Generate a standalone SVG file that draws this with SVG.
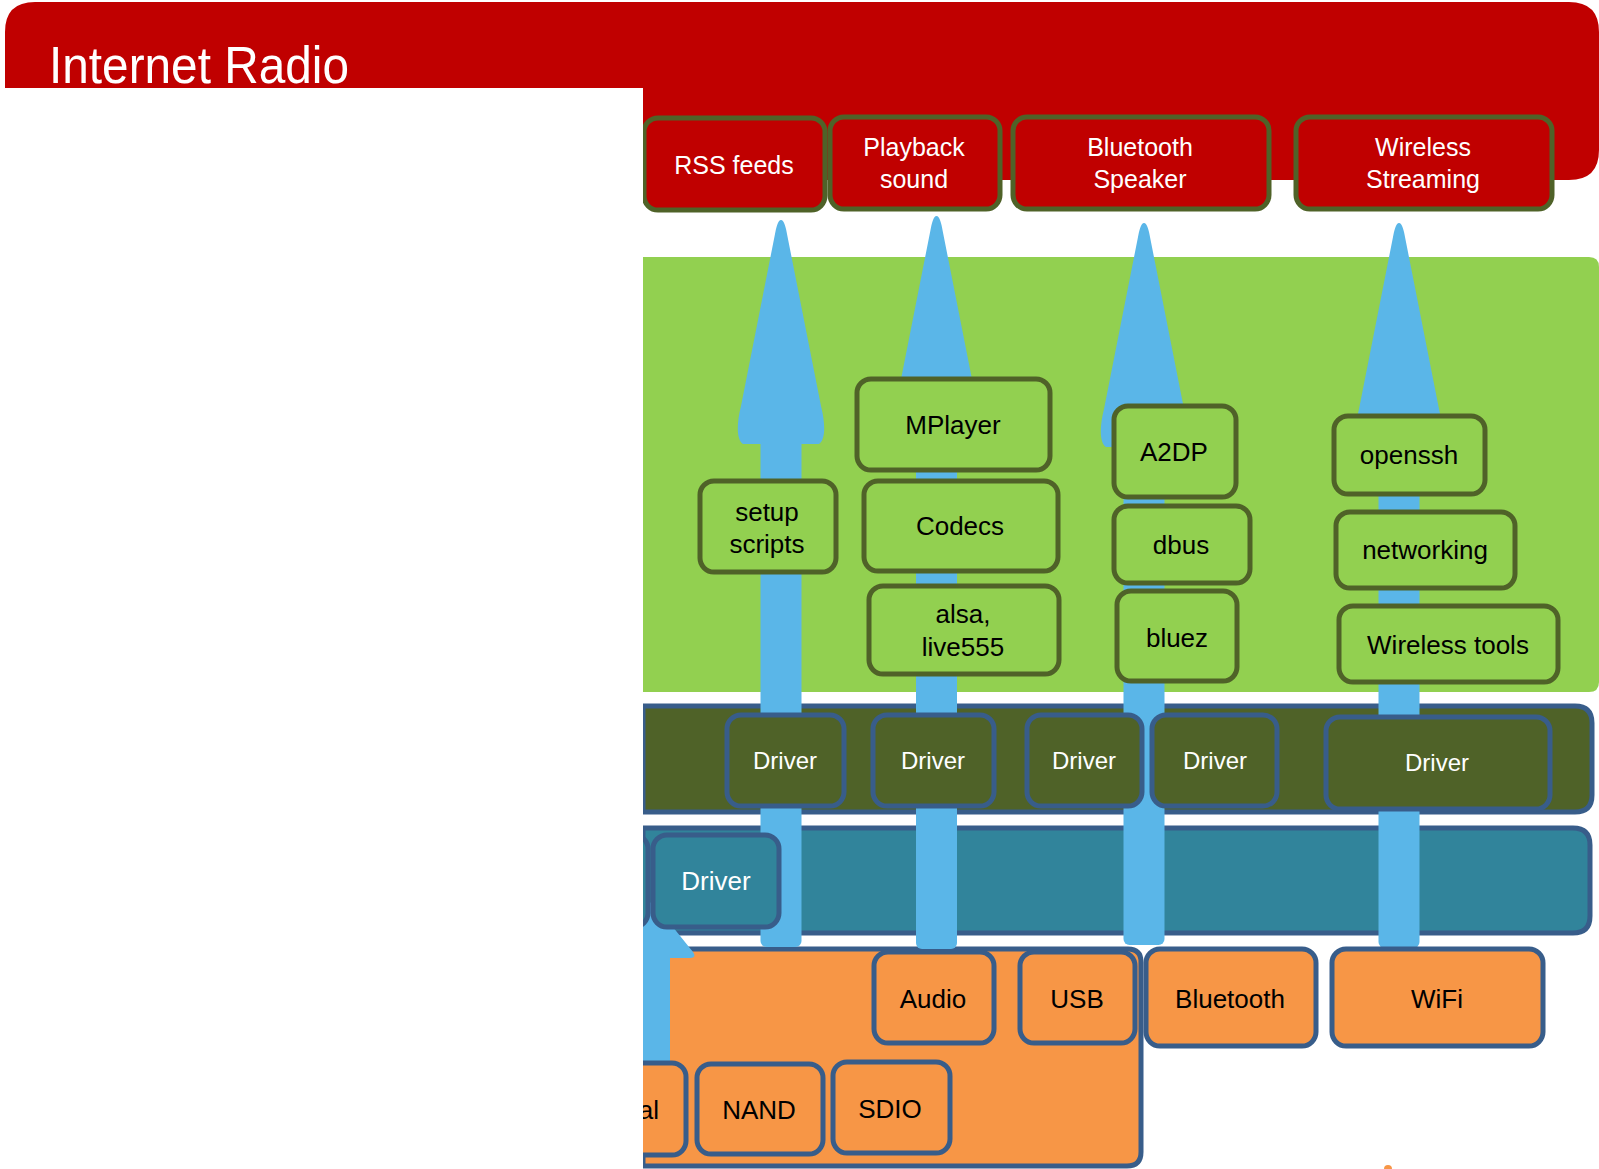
<svg xmlns="http://www.w3.org/2000/svg" width="1599" height="1169" viewBox="0 0 1599 1169">
<style>
text{font-family:"Liberation Sans",Arial,sans-serif;text-anchor:middle}
.top rect{fill:#C00000;stroke:#4F6228;stroke-width:5}
.top text{fill:#fff;font-size:25px}
.gb rect{fill:#92D050;stroke:#4F6228;stroke-width:5}
.gb text{fill:#000;font-size:26px}
.dv rect{fill:#4F6228;stroke:#385D8A;stroke-width:5}
.dv text{fill:#fff;font-size:24px}
.tl rect{fill:#31849B;stroke:#385D8A;stroke-width:5}
.tl text{fill:#fff;font-size:26px}
.ob rect{fill:#F79646;stroke:#385D8A;stroke-width:5}
.ob text{fill:#000;font-size:26px}
.arw{fill:#5AB6E8}
</style>
<defs>
<path id="head" d="M0,0 C3,0 5,8 6,14 L40,186 C45,206 44,220 38,224 L-38,224 C-44,220 -45,206 -40,186 L-6,14 C-5,8 -3,0 0,0 Z"/>
</defs>
<rect width="1599" height="1169" fill="#fff"/>
<g id="banner">
<path d="M35,2 H1569 Q1599,2 1599,32 V150 Q1599,180 1569,180 H643 V88 H5 V32 Q5,2 35,2 Z" fill="#C00000"/>
<text x="49" y="83" textLength="300" lengthAdjust="spacingAndGlyphs" style="text-anchor:start;font-size:52px;fill:#fff">Internet Radio</text>
</g>
<g id="layer-app"><path d="M643,257 H1589 Q1599,257 1599,267 V682 Q1599,692 1589,692 H643 Z" fill="#92D050"/></g>
<g id="layer-driver"><path d="M643,706 H1575 Q1592,706 1592,723 V795 Q1592,812 1575,812 H643 Z" fill="#4F6228" stroke="#385D8A" stroke-width="5"/></g>
<g id="layer-bus"><path d="M643,828 H1573 Q1590,828 1590,845 V916 Q1590,933 1573,933 H643 Z" fill="#31849B" stroke="#385D8A" stroke-width="5"/></g>
<g id="layer-hw"><path d="M643,949 H1128 Q1141,949 1141,962 V1152 Q1141,1166 1127,1166 H643 Z" fill="#F79646" stroke="#385D8A" stroke-width="5"/>
<circle cx="1388" cy="1169" r="4" fill="#F79646"/></g>
<g id="top-boxes" class="top">
<g id="rss"><rect x="644" y="118" width="181" height="92" rx="14"/><text x="734" y="174">RSS feeds</text></g>
<g id="playback"><rect x="830" y="117" width="170" height="92" rx="14"/><text x="914" y="156">Playback</text><text x="914" y="188">sound</text></g>
<g id="btspeaker"><rect x="1013" y="117" width="256" height="92" rx="14"/><text x="1140" y="156">Bluetooth</text><text x="1140" y="188">Speaker</text></g>
<g id="wstream"><rect x="1296" y="117" width="256" height="92" rx="14"/><text x="1423" y="156">Wireless</text><text x="1423" y="188">Streaming</text></g>
</g>
<g id="connectors" class="arw">
<use href="#head" x="781" y="220"/><rect x="760.5" y="420" width="41" height="527" rx="6"/>
<use href="#head" x="936.5" y="216"/><rect x="916" y="420" width="41" height="529" rx="6"/>
<use href="#head" x="1144" y="223"/><rect x="1123.5" y="420" width="41" height="525" rx="6"/>
<use href="#head" x="1399" y="223"/><rect x="1378.5" y="420" width="41" height="528" rx="6"/>
<path d="M645,906 Q650,899 656,906 L693,952 Q697,958 690,958 L670,958 L670,1070 L630,1070 L630,958 L610,958 Z"/>
</g>
<g id="app-boxes" class="gb">
<g id="setup"><rect x="700" y="481" width="136" height="91" rx="14"/><text x="767" y="521">setup</text><text x="767" y="553">scripts</text></g>
<g id="mplayer"><rect x="857" y="379" width="193" height="91" rx="14"/><text x="953" y="434">MPlayer</text></g>
<g id="codecs"><rect x="864" y="481" width="194" height="90" rx="14"/><text x="960" y="535">Codecs</text></g>
<g id="alsa"><rect x="869" y="586" width="190" height="88" rx="14"/><text x="963" y="623">alsa,</text><text x="963" y="656">live555</text></g>
<g id="a2dp"><rect x="1114" y="406" width="122" height="91" rx="14"/><text x="1174" y="461">A2DP</text></g>
<g id="dbus"><rect x="1114" y="506" width="136" height="77" rx="14"/><text x="1181" y="554">dbus</text></g>
<g id="bluez"><rect x="1117" y="591" width="120" height="90" rx="14"/><text x="1177" y="647">bluez</text></g>
<g id="openssh"><rect x="1334" y="416" width="151" height="78" rx="14"/><text x="1409" y="464">openssh</text></g>
<g id="networking"><rect x="1336" y="512" width="179" height="76" rx="14"/><text x="1425" y="559">networking</text></g>
<g id="wtools"><rect x="1339" y="606" width="219" height="76" rx="14"/><text x="1448" y="654">Wireless tools</text></g>
</g>
<g id="driver-boxes" class="dv">
<g id="drv1"><rect x="727" y="715" width="117" height="91" rx="14"/><text x="785" y="769">Driver</text></g>
<g id="drv2"><rect x="873" y="715" width="121" height="91" rx="14"/><text x="933" y="769">Driver</text></g>
<g id="drv3"><rect x="1027" y="715" width="115" height="91" rx="14"/><text x="1084" y="769">Driver</text></g>
<g id="drv4"><rect x="1152" y="715" width="125" height="91" rx="14"/><text x="1215" y="769">Driver</text></g>
<g id="drv5"><rect x="1326" y="717" width="224" height="92" rx="14"/><text x="1437" y="771">Driver</text></g>
</g>
<g id="bus-boxes" class="tl">
<g id="bus0"><rect x="560" y="835" width="88" height="92" rx="14"/></g>
<g id="bus1"><rect x="653" y="835" width="126" height="92" rx="14"/><text x="716" y="890">Driver</text></g>
</g>
<g id="hw-boxes" class="ob">
<g id="audio"><rect x="874" y="952" width="120" height="91" rx="14"/><text x="933" y="1008">Audio</text></g>
<g id="usb"><rect x="1020" y="952" width="115" height="91" rx="14"/><text x="1077" y="1008">USB</text></g>
<g id="bluetooth"><rect x="1146" y="949" width="170" height="97" rx="14"/><text x="1230" y="1008">Bluetooth</text></g>
<g id="wifi"><rect x="1332" y="949" width="211" height="97" rx="14"/><text x="1437" y="1008">WiFi</text></g>
<g id="serial"><rect x="590" y="1063" width="96" height="92" rx="14"/><text x="659" y="1119" style="text-anchor:end">al</text></g>
<g id="nand"><rect x="697" y="1064" width="126" height="90" rx="14"/><text x="759" y="1119">NAND</text></g>
<g id="sdio"><rect x="833" y="1062" width="117" height="91" rx="14"/><text x="890" y="1118">SDIO</text></g>
</g>
<rect id="mask" x="0" y="88" width="643" height="1081" fill="#fff"/>
</svg>
